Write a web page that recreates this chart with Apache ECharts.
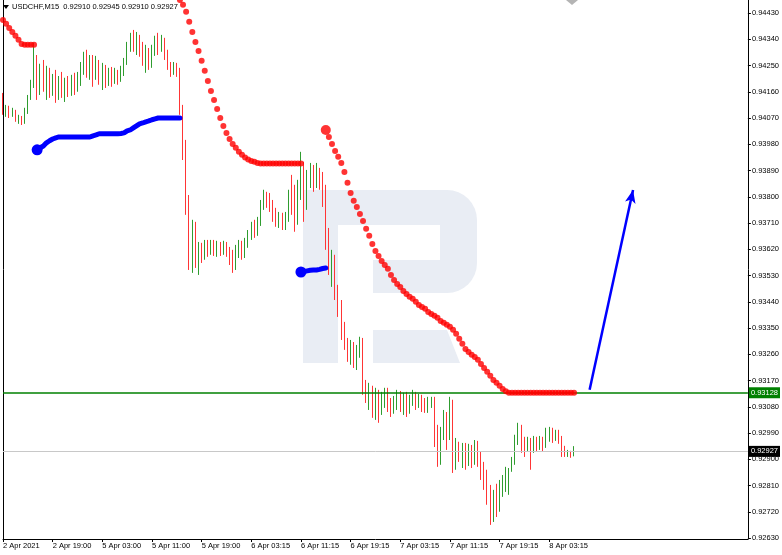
<!DOCTYPE html>
<html><head><meta charset="utf-8">
<script src="https://cdn.jsdelivr.net/npm/echarts@6/dist/echarts.min.js"></script>
<style>html,body{margin:0;padding:0;background:#fff}#c{width:782px;height:555px}</style>
</head><body><div id="c"></div>
<script>
// ---------- data ----------
const symbolName = 'USDCHF,M15';
const xTickLabels = ['2 Apr 2021','2 Apr 19:00','5 Apr 03:00','5 Apr 11:00','5 Apr 19:00','6 Apr 03:15','6 Apr 11:15','6 Apr 19:15','7 Apr 03:15','7 Apr 11:15','7 Apr 19:15','8 Apr 03:15'];
const barsPerTick = 16;
const slotCount = 241;
const yTickValues = [0.92630,0.92720,0.92810,0.92900,0.92990,0.93080,0.93170,0.93260,0.93350,0.93440,0.93530,0.93620,0.93710,0.93800,0.93890,0.93980,0.94070,0.94160,0.94250,0.94340,0.94430];
const yMin = 0.926266, yMax = 0.944746;

const opens = [0.94132,0.94091,0.94105,0.94084,0.94091,0.94064,0.94070,0.94060,0.94091,0.94139,
0.94184,0.94262,0.94166,0.94235,0.94184,0.94218,0.94160,0.94201,0.94149,0.94194,
0.94166,0.94184,0.94156,0.94201,0.94173,0.94208,0.94242,0.94269,0.94228,0.94276,
0.94235,0.94262,0.94208,0.94228,0.94194,0.94218,0.94201,0.94228,0.94208,0.94235,
0.94262,0.94310,0.94338,0.94321,0.94345,0.94310,0.94269,0.94286,0.94252,0.94304,
0.94331,0.94310,0.94338,0.94286,0.94252,0.94235,0.94249,0.94228,0.94098,0.93961,
0.93789,0.93601,0.93669,0.93584,0.93625,0.93601,0.93635,0.93618,0.93642,0.93618,
0.93632,0.93614,0.93635,0.93611,0.93590,0.93577,0.93618,0.93628,0.93611,0.93638,
0.93666,0.93693,0.93680,0.93714,0.93772,0.93806,0.93789,0.93772,0.93738,0.93714,
0.93728,0.93704,0.93738,0.93806,0.93772,0.93721,0.93841,0.93892,0.93772,0.93858,
0.93885,0.93851,0.93892,0.93858,0.93806,0.93686,0.93566,0.93590,0.93481,0.93412,
0.93344,0.93292,0.93258,0.93282,0.93241,0.93268,0.93309,0.93155,0.93110,0.93138,
0.93086,0.93121,0.93069,0.93110,0.93131,0.93086,0.93069,0.93097,0.93117,0.93086,
0.93110,0.93069,0.93104,0.93121,0.93093,0.93110,0.93086,0.93069,0.93093,0.93104,
0.93001,0.92949,0.92994,0.93035,0.92984,0.93086,0.92932,0.92949,0.92915,0.92939,
0.92905,0.92932,0.92898,0.92939,0.92915,0.92864,0.92836,0.92778,0.92726,0.92761,
0.92744,0.92795,0.92812,0.92829,0.92846,0.92891,0.92966,0.93008,0.92966,0.92942,
0.92960,0.92939,0.92966,0.92949,0.92966,0.92953,0.92990,0.93001,0.92980,0.92994,
0.92973,0.92932,0.92915,0.92925,0.92910];
const closes = [0.94091,0.94105,0.94084,0.94091,0.94064,0.94070,0.94060,0.94091,0.94139,0.94184,
0.94262,0.94166,0.94235,0.94184,0.94218,0.94160,0.94201,0.94149,0.94194,0.94166,
0.94184,0.94156,0.94201,0.94173,0.94208,0.94242,0.94269,0.94228,0.94276,0.94235,
0.94262,0.94208,0.94228,0.94194,0.94218,0.94201,0.94228,0.94208,0.94235,0.94262,
0.94310,0.94338,0.94321,0.94345,0.94310,0.94269,0.94286,0.94252,0.94304,0.94331,
0.94310,0.94338,0.94286,0.94252,0.94235,0.94249,0.94228,0.94098,0.93961,0.93789,
0.93601,0.93669,0.93584,0.93625,0.93601,0.93635,0.93618,0.93642,0.93618,0.93632,
0.93614,0.93635,0.93611,0.93590,0.93577,0.93618,0.93628,0.93611,0.93638,0.93666,
0.93693,0.93680,0.93714,0.93772,0.93806,0.93789,0.93772,0.93738,0.93714,0.93728,
0.93704,0.93738,0.93806,0.93772,0.93721,0.93841,0.93892,0.93772,0.93858,0.93885,
0.93851,0.93892,0.93858,0.93806,0.93686,0.93566,0.93590,0.93481,0.93412,0.93344,
0.93292,0.93258,0.93282,0.93241,0.93268,0.93309,0.93155,0.93110,0.93138,0.93086,
0.93121,0.93069,0.93110,0.93131,0.93086,0.93069,0.93097,0.93117,0.93086,0.93110,
0.93069,0.93104,0.93121,0.93093,0.93110,0.93086,0.93069,0.93093,0.93104,0.93001,
0.92949,0.92994,0.93035,0.92984,0.93086,0.92932,0.92949,0.92915,0.92939,0.92905,
0.92932,0.92898,0.92939,0.92915,0.92864,0.92836,0.92778,0.92726,0.92761,0.92744,
0.92795,0.92812,0.92829,0.92846,0.92891,0.92966,0.93008,0.92966,0.92942,0.92960,
0.92939,0.92966,0.92949,0.92966,0.92953,0.92990,0.93001,0.92980,0.92994,0.92973,
0.92932,0.92915,0.92925,0.92912,0.92927];
const lows = [0.94081,0.94074,0.94070,0.94074,0.94057,0.94050,0.94046,0.94050,0.94084,0.94132,
0.94173,0.94132,0.94149,0.94160,0.94132,0.94139,0.94146,0.94122,0.94132,0.94139,
0.94125,0.94142,0.94146,0.94149,0.94160,0.94180,0.94218,0.94208,0.94201,0.94177,
0.94201,0.94184,0.94166,0.94173,0.94180,0.94177,0.94187,0.94184,0.94194,0.94214,
0.94252,0.94297,0.94297,0.94286,0.94280,0.94249,0.94225,0.94235,0.94242,0.94283,
0.94286,0.94297,0.94269,0.94235,0.94211,0.94218,0.94211,0.94081,0.93926,0.93738,
0.93549,0.93539,0.93556,0.93532,0.93573,0.93584,0.93594,0.93601,0.93597,0.93594,
0.93597,0.93601,0.93594,0.93566,0.93539,0.93549,0.93590,0.93584,0.93590,0.93625,
0.93652,0.93659,0.93666,0.93700,0.93755,0.93762,0.93748,0.93714,0.93697,0.93693,
0.93686,0.93686,0.93714,0.93738,0.93680,0.93704,0.93789,0.93714,0.93755,0.93830,
0.93817,0.93830,0.93824,0.93765,0.93618,0.93532,0.93491,0.93446,0.93388,0.93309,
0.93275,0.93234,0.93224,0.93213,0.93206,0.93248,0.93121,0.93093,0.93069,0.93042,
0.93035,0.93025,0.93052,0.93076,0.93062,0.93045,0.93056,0.93069,0.93062,0.93052,
0.93045,0.93056,0.93083,0.93069,0.93076,0.93062,0.93059,0.93059,0.93076,0.92942,
0.92874,0.92881,0.92966,0.92932,0.92966,0.92853,0.92864,0.92891,0.92870,0.92864,
0.92877,0.92870,0.92881,0.92874,0.92829,0.92795,0.92744,0.92675,0.92685,0.92702,
0.92720,0.92771,0.92788,0.92778,0.92857,0.92881,0.92949,0.92922,0.92908,0.92925,
0.92864,0.92922,0.92925,0.92932,0.92925,0.92939,0.92960,0.92956,0.92963,0.92953,
0.92908,0.92908,0.92908,0.92905,0.92910];
const highs = [0.94156,0.94115,0.94112,0.94105,0.94098,0.94081,0.94077,0.94105,0.94149,0.94201,
0.94328,0.94286,0.94256,0.94269,0.94249,0.94242,0.94221,0.94235,0.94214,0.94228,
0.94208,0.94214,0.94218,0.94225,0.94228,0.94262,0.94297,0.94304,0.94286,0.94286,
0.94283,0.94269,0.94259,0.94252,0.94242,0.94245,0.94242,0.94235,0.94249,0.94276,
0.94331,0.94362,0.94372,0.94365,0.94355,0.94331,0.94321,0.94310,0.94321,0.94352,
0.94362,0.94355,0.94345,0.94304,0.94262,0.94262,0.94259,0.94242,0.94115,0.93995,
0.93806,0.93721,0.93714,0.93645,0.93642,0.93652,0.93652,0.93652,0.93652,0.93649,
0.93645,0.93649,0.93645,0.93628,0.93618,0.93635,0.93652,0.93649,0.93659,0.93686,
0.93714,0.93721,0.93731,0.93789,0.93824,0.93817,0.93813,0.93789,0.93762,0.93748,
0.93745,0.93748,0.93824,0.93875,0.93841,0.93858,0.93954,0.93920,0.93892,0.93916,
0.93909,0.93916,0.93899,0.93885,0.93841,0.93693,0.93618,0.93601,0.93498,0.93446,
0.93371,0.93316,0.93309,0.93302,0.93292,0.93320,0.93316,0.93172,0.93162,0.93152,
0.93145,0.93138,0.93131,0.93145,0.93145,0.93110,0.93117,0.93138,0.93134,0.93128,
0.93131,0.93121,0.93138,0.93131,0.93124,0.93121,0.93110,0.93114,0.93114,0.93114,
0.93018,0.93011,0.93069,0.93062,0.93114,0.93104,0.92973,0.92960,0.92956,0.92956,
0.92953,0.92949,0.92966,0.92963,0.92925,0.92891,0.92864,0.92812,0.92795,0.92816,
0.92829,0.92846,0.92874,0.92870,0.92908,0.92984,0.93025,0.93018,0.92977,0.92977,
0.92973,0.92980,0.92977,0.92980,0.92977,0.93008,0.93011,0.93008,0.93001,0.93001,
0.92980,0.92946,0.92932,0.92929,0.92945];

// resistance (red) segments, each with its first bar index
const redAStart = 0;
const redA = [0.94406,0.94393,0.94379,0.94365,0.94352,0.94338,0.94324,0.94321,0.94321,0.94321,0.94321];
const redBStart = 57;
const redB = [0.94475,0.94458,0.94434,0.94400,0.94365,0.94331,0.94300,0.94266,0.94232,0.94197,
0.94163,0.94132,0.94101,0.94070,0.94043,0.94019,0.93998,0.93981,0.93968,0.93954,
0.93944,0.93935,0.93928,0.93923,0.93920,0.93916,0.93914,0.93914,0.93914,0.93914,
0.93914,0.93914,0.93914,0.93914,0.93914,0.93914,0.93914,0.93914,0.93914,0.93914];
const redCStart = 104;
const redC = [0.94029,0.94005,0.93981,0.93957,0.93937,0.93916,0.93885,0.93848,0.93813,0.93786,
0.93765,0.93741,0.93717,0.93690,0.93666,0.93638,0.93614,0.93597,0.93580,0.93566,
0.93553,0.93532,0.93515,0.93501,0.93491,0.93477,0.93467,0.93457,0.93450,0.93440,
0.93429,0.93422,0.93416,0.93405,0.93398,0.93392,0.93385,0.93374,0.93368,0.93361,
0.93354,0.93344,0.93330,0.93313,0.93296,0.93278,0.93268,0.93258,0.93251,0.93241,
0.93227,0.93213,0.93200,0.93186,0.93172,0.93162,0.93152,0.93141,0.93133,0.93128,
0.93128,0.93128,0.93128,0.93128,0.93128,0.93128,0.93128,0.93128,0.93128,0.93128,
0.93128,0.93128,0.93128,0.93128,0.93128,0.93128,0.93128,0.93128,0.93128,0.93128,0.93128];
// support (blue) segments
const blueAStart = 11;
const blueA = [0.93961,0.93968,0.93974,0.93985,0.93992,0.93998,0.94002,0.94005,0.94005,0.94005,
0.94005,0.94005,0.94005,0.94005,0.94005,0.94005,0.94005,0.94005,0.94009,0.94012,
0.94016,0.94016,0.94016,0.94016,0.94016,0.94016,0.94016,0.94017,0.94019,0.94026,
0.94029,0.94036,0.94043,0.94050,0.94053,0.94057,0.94060,0.94064,0.94067,0.94070,
0.94070,0.94070,0.94070,0.94070,0.94070,0.94070,0.94070];
const blueBStart = 96;
const blueB = [0.93542,0.93544,0.93546,0.93548,0.93549,0.93549,0.93551,0.93554,0.93556];

const levelLine = 0.93128;
const arrowFrom = [189, 0.93138];
const arrowTo = [203, 0.93823];

// ---------- chart ----------
const FONT = '"Liberation Sans", Arial, sans-serif';
const last = opens.length - 1;
const cats = Array.from({length: slotCount}, (_, i) => String(i));
const candles = opens.map((o, i) => [o, closes[i], lows[i], highs[i]]);
const seg = (start, arr) => arr.map((v, k) => [start + k, v]);
const isTick = i => i % barsPerTick === 0 && i / barsPerTick < xTickLabels.length;
const f5 = v => v.toFixed(5);

const redPts = [].concat(seg(redAStart, redA), seg(redBStart, redB), seg(redCStart, redC));
const redStartIdx = redPts.findIndex(p => p[0] === redCStart);
const redData = redPts.map((p, k) => k === redStartIdx ? {value: p, symbolSize: 10} : p);
const blueLine = (start, arr) => seg(start, arr).map((p, k) => k === 0 ? {value: p, symbol: 'circle', symbolSize: 11} : p);

const WM = '#e9edf4';
const chart = echarts.init(document.getElementById('c'));
chart.setOption({
  animation: false,
  backgroundColor: '#fff',
  title: {
    text: symbolName + '  ' + [opens[last], highs[last], lows[last], closes[last]].map(f5).join(' '),
    left: 12, top: 3, padding: 0,
    textStyle: {fontSize: 7.5, fontWeight: 'normal', fontFamily: FONT, color: '#000'}
  },
  graphic: [
    {type: 'rect', z: -5, silent: true, shape: {x: 303, y: 190, width: 35, height: 173}, style: {fill: WM}},
    {type: 'rect', z: -5, silent: true, shape: {x: 337, y: 190, width: 108, height: 35}, style: {fill: WM}},
    {type: 'rect', z: -5, silent: true, shape: {x: 440, y: 190, width: 37, height: 103, r: [0, 30, 30, 0]}, style: {fill: WM}},
    {type: 'rect', z: -5, silent: true, shape: {x: 373, y: 260, width: 72, height: 33}, style: {fill: WM}},
    {type: 'polygon', z: -5, silent: true, shape: {points: [[373, 330], [447, 330], [460, 363], [373, 363]]}, style: {fill: WM}},
    {type: 'polygon', silent: true, shape: {points: [[3, 5], [9, 5], [6, 9]]}, style: {fill: '#000'}},
    {type: 'polygon', silent: true, shape: {points: [[566, 0], [578, 0], [572, 5]]}, style: {fill: '#b4b4b4'}}
  ],
  grid: {left: 0, right: 33, top: 0, bottom: 16},
  xAxis: {
    type: 'category', data: cats, boundaryGap: false,
    axisLine: {lineStyle: {color: '#000', width: 1}},
    axisTick: {length: 3, interval: i => isTick(i), lineStyle: {color: '#000'}},
    axisLabel: {interval: i => isTick(i), formatter: (v, i) => xTickLabels[i / barsPerTick] || '',
      align: 'left', margin: 3, fontSize: 7.5, fontFamily: FONT, color: '#000'},
    splitLine: {show: false}
  },
  yAxis: [{
    type: 'value', position: 'right', min: yMin, max: yMax,
    axisLine: {show: true, lineStyle: {color: '#000'}},
    axisTick: {show: true, length: 3, customValues: yTickValues, lineStyle: {color: '#000'}},
    axisLabel: {customValues: yTickValues, formatter: v => f5(v), margin: 4, fontSize: 7.5, fontFamily: FONT, color: '#000'},
    splitLine: {show: false}
  }, {
    type: 'value', position: 'left', min: yMin, max: yMax,
    axisLine: {show: true, onZero: false, lineStyle: {color: '#000'}},
    axisTick: {show: false}, axisLabel: {show: false}, splitLine: {show: false}
  }],
  series: [
    {
      type: 'line', data: [], z: 1, silent: true,
      markLine: {
        silent: true, animation: false, symbol: 'none', precision: 5,
        data: [
          {yAxis: closes[last], lineStyle: {color: '#c8c8c8', width: 1, type: 'solid'},
           label: {show: true, position: 'end', distance: 1, formatter: f5(closes[last]), backgroundColor: '#000',
                   color: '#fff', padding: [2, 2, 1, 2], fontSize: 7.5, fontFamily: FONT}},
          {yAxis: levelLine, lineStyle: {color: '#008000', width: 1.5, type: 'solid'},
           label: {show: true, position: 'end', distance: 1, formatter: f5(levelLine), backgroundColor: '#008000',
                   color: '#fff', padding: [2, 2, 1, 2], fontSize: 7.5, fontFamily: FONT}}
        ]
      }
    },
    {
      type: 'candlestick', data: candles, barWidth: 0.6, z: 2,
      itemStyle: {color: '#2f9c2f', color0: '#ff3535', borderColor: '#2f9c2f', borderColor0: '#ff3535', borderWidth: 1}
    },
    {
      type: 'line', data: blueLine(blueAStart, blueA), z: 4, symbol: 'none', showAllSymbol: true,
      lineStyle: {color: '#0000ff', width: 5, cap: 'round'}, itemStyle: {color: '#0000ff'}
    },
    {
      type: 'line', data: blueLine(blueBStart, blueB), z: 4, symbol: 'none', showAllSymbol: true,
      lineStyle: {color: '#0000ff', width: 5, cap: 'round'}, itemStyle: {color: '#0000ff'}
    },
    {
      type: 'scatter', data: redData, symbolSize: 6, z: 5, clip: false,
      itemStyle: {color: '#ff0000'}
    },
    {
      type: 'line', data: [], z: 6, silent: true,
      markLine: {
        silent: true, animation: false, precision: 5,
        data: [[
          {coord: arrowFrom, symbol: 'none'},
          {coord: arrowTo, symbol: 'arrow', symbolSize: [8, 13]}
        ]],
        lineStyle: {color: '#0000ff', width: 2.5, type: 'solid'},
        label: {show: false}
      }
    }
  ]
});
</script>
</body></html>
